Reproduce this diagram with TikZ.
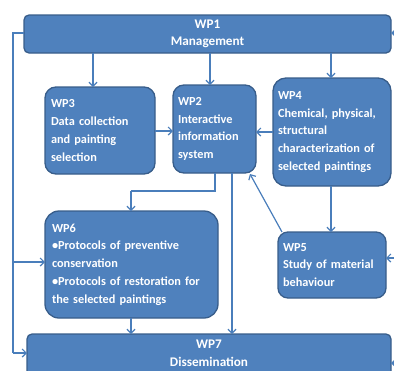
\documentclass[tikz,border=0pt]{standalone}
\usepackage{fontspec}
\setmainfont{Carlito}
\usetikzlibrary{arrows.meta}
\definecolor{boxfill}{HTML}{4F81BD}
\definecolor{boxline}{HTML}{385D8A}
\definecolor{arrowc}{HTML}{4A7EBB}
\tikzset{
  wp/.style={draw=boxline, line width=1.3pt, fill=boxfill, text=white,
    font=\bfseries\fontsize{12.3}{17.8}\selectfont, inner sep=0pt, outer sep=0pt,
    anchor=north west},
  bigtext/.style={text=white, font=\bfseries\fontsize{13.2}{17.5}\selectfont, align=center},
  conn/.style={draw=arrowc, line width=1.2pt, -{Straight Barb[length=4pt,width=8pt,line width=1.2pt]}},
  plain/.style={draw=arrowc, line width=1.2pt},
}
\begin{document}
\begin{tikzpicture}[x=1pt,y=-1pt]
\useasboundingbox (0,0) rectangle (394,370);
% boxes
\node[wp, rounded corners=5pt, minimum width=367pt, minimum height=38pt] (wp1) at (24,15) {};
\node[bigtext] (wp1t) at (wp1.center) {WP1\\Management};
\node[wp, rounded corners=11pt, minimum width=110pt, minimum height=87pt, text width=98pt, align=left] (wp3) at (45,87) {WP3\\Data collection\\and painting\\selection};
\node[wp, rounded corners=11pt, minimum width=83pt, minimum height=88pt, text width=73pt, align=left] (wp2) at (173,85) {WP2\\Interactive\\information\\system};
\node[wp, rounded corners=13pt, minimum width=118pt, minimum height=108pt, text width=108pt, align=left] (wp4) at (273,78) {WP4\\Chemical, physical,\\structural\\characterization of\\selected paintings};
\node[wp, rounded corners=14pt, minimum width=173pt, minimum height=107pt, text width=159pt, align=left] (wp6) at (45,211) {WP6\\\textbullet Protocols of preventive\\conservation\\\textbullet Protocols of restoration for\\the selected paintings};
\node[wp, rounded corners=10pt, minimum width=108pt, minimum height=66pt, text width=98pt, align=left] (wp5) at (278,232) {WP5\\Study of material\\behaviour};
\node[wp, rounded corners=5pt, minimum width=364pt, minimum height=48pt, anchor=north] (wp7) at (209,334) {};
\node[bigtext, anchor=north] (wp7t) at (209,336.5) {WP7\\Dissemination};
% coordinates
\coordinate (l1) at (13,33);
\coordinate (l2) at (13,353);
\coordinate (l3) at (13,262);
\coordinate (b1) at (215,191);
\coordinate (b2) at (131,191);
\coordinate (r1) at (394,33);
\coordinate (r5) at (394,258);
\coordinate (r7) at (394,363);
% connectors
\draw[conn] (93,53) -- (93,87);
\draw[conn] (210,53) -- (210,85);
\draw[conn] (331,53) -- (331,78);
\draw[conn] (wp3.east |- 0,131) -- (wp2.west |- 0,131);
\draw[conn] (wp4.west |- 0,132) -- (wp2.east |- 0,132);
\draw[conn] (282,232) -- (250,174);
\draw[conn] (331,186) -- (331,232);
\draw[plain] (215,173) -- (b1) -- (b2);
\draw[conn] (b2) -- (131,211);
\draw[conn] (232,173) -- (232,334);
\draw[conn] (131,318) -- (131,334);
\draw[plain] (wp1.west |- l1) -- (l1) -- (l2);
\draw[conn] (l2) -- (27,353);
\draw[conn] (l3) -- (45,262);
\draw[conn] (r1) -- (391,33);
\draw[conn] (r5) -- (386,258);
\draw[conn] (r7) -- (391,363);
\end{tikzpicture}
\end{document}
